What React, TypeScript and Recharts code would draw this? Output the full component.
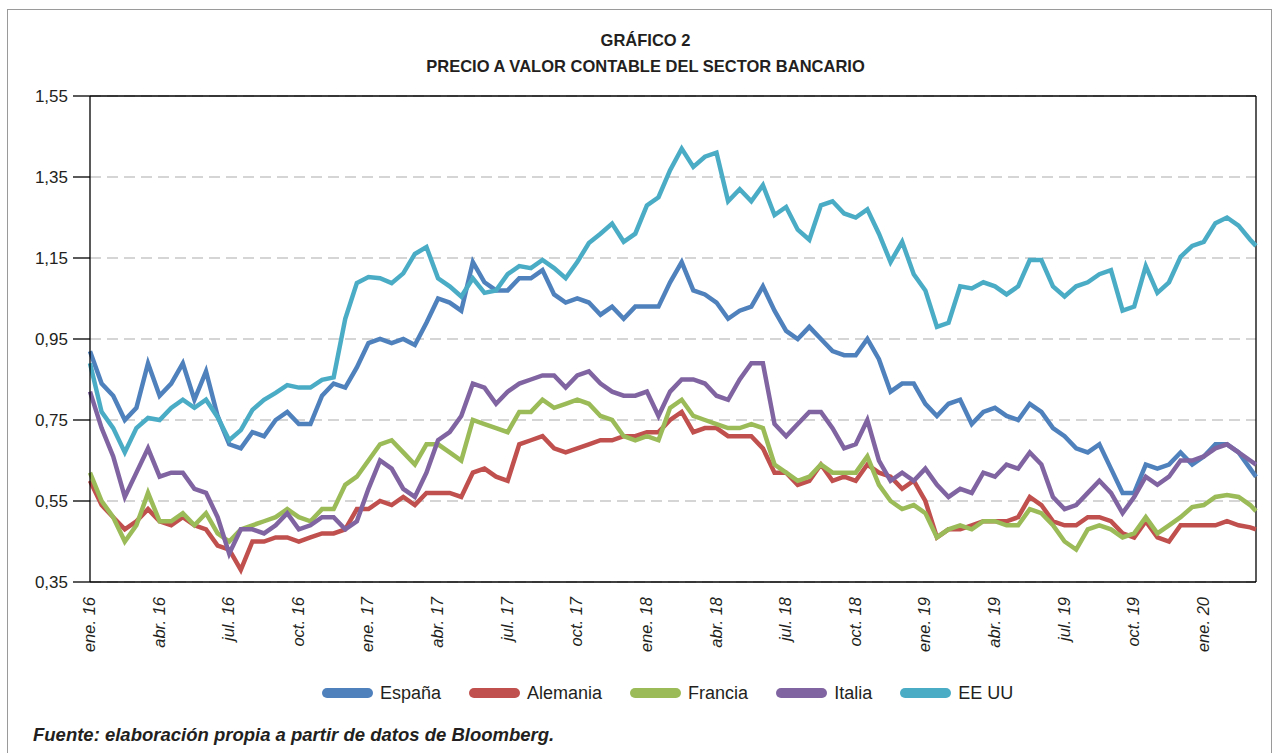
import {
  CartesianGrid,
  Line,
  LineChart,
  ReferenceLine,
  XAxis,
  YAxis,
} from 'recharts';

// Precio / valor contable, lecturas quincenales (ene. 2016 - feb. 2020)
const espana = [
  0.92, 0.84, 0.81, 0.75, 0.78, 0.89, 0.81, 0.84, 0.89, 0.8,
  0.87, 0.76, 0.69, 0.68, 0.72, 0.71, 0.75, 0.77, 0.74, 0.74,
  0.81, 0.84, 0.83, 0.88, 0.94, 0.95, 0.94, 0.95, 0.935, 0.99,
  1.05, 1.04, 1.02, 1.14, 1.09, 1.07, 1.07, 1.1, 1.1, 1.12,
  1.06, 1.04, 1.05, 1.04, 1.01, 1.03, 1.0, 1.03, 1.03, 1.03,
  1.09, 1.14, 1.07, 1.06, 1.04, 1.0, 1.02, 1.03, 1.08, 1.02,
  0.97, 0.95, 0.98, 0.95, 0.92, 0.91, 0.91, 0.95, 0.9, 0.82,
  0.84, 0.84, 0.79, 0.76, 0.79, 0.8, 0.74, 0.77, 0.78, 0.76,
  0.75, 0.79, 0.77, 0.73, 0.71, 0.68, 0.67, 0.69, 0.63, 0.57,
  0.57, 0.64, 0.63, 0.64, 0.67, 0.64, 0.66, 0.69, 0.69, 0.67,
  0.63, 0.61,
];

const alemania = [
  0.6, 0.54, 0.51, 0.48, 0.5, 0.53, 0.5, 0.49, 0.51, 0.49,
  0.48, 0.44, 0.43, 0.38, 0.45, 0.45, 0.46, 0.46, 0.45, 0.46,
  0.47, 0.47, 0.48, 0.53, 0.53, 0.55, 0.54, 0.56, 0.54, 0.57,
  0.57, 0.57, 0.56, 0.62, 0.63, 0.61, 0.6, 0.69, 0.7, 0.71,
  0.68, 0.67, 0.68, 0.69, 0.7, 0.7, 0.71, 0.71, 0.72, 0.72,
  0.75, 0.77, 0.72, 0.73, 0.73, 0.71, 0.71, 0.71, 0.68, 0.62,
  0.62, 0.59, 0.6, 0.64, 0.6, 0.61, 0.6, 0.64, 0.62, 0.61,
  0.58, 0.6, 0.55, 0.46, 0.48, 0.48, 0.49, 0.5, 0.5, 0.5,
  0.51, 0.56, 0.54, 0.5, 0.49, 0.49, 0.51, 0.51, 0.5, 0.47,
  0.46, 0.5, 0.46, 0.45, 0.49, 0.49, 0.49, 0.49, 0.5, 0.49,
  0.485, 0.48,
];

const francia = [
  0.62, 0.55, 0.51, 0.45, 0.49, 0.57, 0.5, 0.5, 0.52, 0.49,
  0.52, 0.47, 0.45, 0.48, 0.49, 0.5, 0.51, 0.53, 0.51, 0.5,
  0.53, 0.53, 0.59, 0.61, 0.65, 0.69, 0.7, 0.67, 0.64, 0.69,
  0.69, 0.67, 0.65, 0.75, 0.74, 0.73, 0.72, 0.77, 0.77, 0.8,
  0.78, 0.79, 0.8, 0.79, 0.76, 0.75, 0.71, 0.7, 0.71, 0.7,
  0.78, 0.8, 0.76, 0.75, 0.74, 0.73, 0.73, 0.74, 0.73, 0.64,
  0.62, 0.6, 0.61, 0.64, 0.62, 0.62, 0.62, 0.66, 0.59, 0.55,
  0.53, 0.54, 0.52, 0.46, 0.48, 0.49, 0.48, 0.5, 0.5, 0.49,
  0.49, 0.53, 0.52, 0.49, 0.45, 0.43, 0.48, 0.49, 0.48, 0.46,
  0.47, 0.51, 0.47, 0.49, 0.51, 0.535, 0.54, 0.56, 0.565, 0.56,
  0.54, 0.525,
];

const italia = [
  0.82, 0.73, 0.66, 0.56, 0.62, 0.68, 0.61, 0.62, 0.62, 0.58,
  0.57, 0.51, 0.42, 0.48, 0.48, 0.47, 0.49, 0.52, 0.48, 0.49,
  0.51, 0.51, 0.48, 0.5, 0.58, 0.65, 0.63, 0.58, 0.56, 0.62,
  0.7, 0.72, 0.76, 0.84, 0.83, 0.79, 0.82, 0.84, 0.85, 0.86,
  0.86, 0.83, 0.86, 0.87, 0.84, 0.82, 0.81, 0.81, 0.82, 0.76,
  0.82, 0.85, 0.85, 0.84, 0.81, 0.8, 0.85, 0.89, 0.89, 0.74,
  0.71, 0.74, 0.77, 0.77, 0.73, 0.68, 0.69, 0.75, 0.65, 0.6,
  0.62, 0.6, 0.63, 0.59, 0.56, 0.58, 0.57, 0.62, 0.61, 0.64,
  0.63, 0.67, 0.64, 0.56, 0.53, 0.54, 0.57, 0.6, 0.57, 0.52,
  0.56, 0.61, 0.59, 0.61, 0.65, 0.65, 0.66, 0.68, 0.69, 0.67,
  0.65, 0.64,
];

const eeuu = [
  0.89, 0.77, 0.73, 0.67, 0.73, 0.755, 0.75, 0.78, 0.8, 0.78,
  0.8, 0.757, 0.7, 0.725, 0.775, 0.8, 0.817, 0.836, 0.83, 0.83,
  0.849, 0.855, 1.0, 1.088, 1.103, 1.1, 1.088, 1.112, 1.16, 1.177,
  1.1, 1.08, 1.055, 1.1, 1.064, 1.07, 1.11, 1.13, 1.125, 1.145,
  1.125, 1.1, 1.14, 1.187, 1.21, 1.235, 1.19, 1.21, 1.28, 1.3,
  1.367, 1.42, 1.375, 1.4, 1.41, 1.29, 1.32, 1.29, 1.33, 1.256,
  1.276, 1.22, 1.195, 1.28, 1.29, 1.26, 1.25, 1.27, 1.21, 1.14,
  1.19, 1.11, 1.07, 0.98, 0.99, 1.08, 1.075, 1.09, 1.08, 1.06,
  1.08, 1.145, 1.145, 1.08, 1.055, 1.08, 1.09, 1.11, 1.12, 1.02,
  1.03, 1.13, 1.064, 1.09, 1.153, 1.18, 1.19, 1.236, 1.25, 1.23,
  1.195, 1.18,
];

const ultimoMes = 50.25;
const mesesTicks = [0, 3, 6, 9, 12, 15, 18, 21, 24, 27, 30, 33, 36, 39, 42, 45, 48];
const mesesLabels = [
  'ene. 16', 'abr. 16', 'jul. 16', 'oct. 16',
  'ene. 17', 'abr. 17', 'jul. 17', 'oct. 17',
  'ene. 18', 'abr. 18', 'jul. 18', 'oct. 18',
  'ene. 19', 'abr. 19', 'jul. 19', 'oct. 19',
  'ene. 20',
];
const yTicks = [0.35, 0.55, 0.75, 0.95, 1.15, 1.35, 1.55];

const series = [
  { key: 'espana', name: 'España', color: '#4f81bd', values: espana },
  { key: 'alemania', name: 'Alemania', color: '#c0504d', values: alemania },
  { key: 'francia', name: 'Francia', color: '#9bbb59', values: francia },
  { key: 'italia', name: 'Italia', color: '#8064a2', values: italia },
  { key: 'eeuu', name: 'EE UU', color: '#4bacc6', values: eeuu },
];

const data = espana.map((_, i) => {
  const row: Record<string, number> = { mes: Math.min(i * 0.5, ultimoMes) };
  series.forEach((s) => {
    row[s.key] = s.values[i];
  });
  return row;
});

const FONT = '"Liberation Sans", Arial, Helvetica, sans-serif';
const TEXT = '#231f20';

function MonthTick({ x, y, payload }: any) {
  const idx = mesesTicks.indexOf(payload.value);
  const px = x + 5;
  const py = y + 15;
  return (
    <text
      x={px}
      y={py}
      transform={`rotate(-90 ${px} ${py})`}
      textAnchor="end"
      fontSize={16.5}
      fontStyle="italic"
      fontFamily={FONT}
      fill={TEXT}
    >
      {mesesLabels[idx]}
    </text>
  );
}

export default function App() {
  return (
    <div
      style={{
        position: 'absolute',
        left: 7,
        top: 9,
        width: 1263,
        height: 760,
        border: '1px solid #9a9a9a',
        fontFamily: FONT,
        color: TEXT,
        background: '#fff',
      }}
    >
      <div
        style={{
          position: 'absolute',
          left: 12,
          width: 1251,
          top: 17,
          textAlign: 'center',
          fontWeight: 'bold',
          fontSize: 16.5,
          lineHeight: '26px',
        }}
      >
        <div>GRÁFICO 2</div>
        <div>PRECIO A VALOR CONTABLE DEL SECTOR BANCARIO</div>
      </div>

      <div style={{ position: 'absolute', left: 0, top: 0 }}>
        <LineChart
          width={1262}
          height={652}
          data={data}
          margin={{ top: 86, right: 14, bottom: 0, left: 0 }}
        >
          <CartesianGrid
            vertical={false}
            stroke="#ababab"
            strokeWidth={1.2}
            strokeDasharray="11 6"
          />
          <XAxis
            dataKey="mes"
            type="number"
            domain={[0, ultimoMes]}
            ticks={mesesTicks}
            interval={0}
            height={80}
            tickSize={0}
            tickMargin={0}
            tickLine={false}
            axisLine={{ stroke: '#000', strokeWidth: 1.3 }}
            tick={<MonthTick />}
          />
          <YAxis
            type="number"
            domain={[0.35, 1.55]}
            ticks={yTicks}
            width={82}
            tickSize={17}
            tickMargin={5}
            axisLine={{ stroke: '#000', strokeWidth: 1.3 }}
            tickLine={{ stroke: '#000', strokeWidth: 1.3 }}
            tick={{ fontSize: 17, fill: TEXT, fontFamily: FONT }}
            tickFormatter={(v: number) => v.toFixed(2).replace('.', ',')}
          />
          <ReferenceLine y={1.55} stroke="#000" strokeWidth={1.3} />
          <ReferenceLine x={ultimoMes} stroke="#000" strokeWidth={1.3} />
          {series.map((s) => (
            <Line
              key={s.key}
              type="linear"
              dataKey={s.key}
              name={s.name}
              stroke={s.color}
              strokeWidth={4.5}
              dot={false}
              isAnimationActive={false}
            />
          ))}
        </LineChart>
      </div>

      <div
        style={{
          position: 'absolute',
          left: 314,
          top: 672,
          height: 22,
          display: 'flex',
          alignItems: 'center',
          fontSize: 18,
        }}
      >
        {series.map((s) => (
          <div key={s.key} style={{ display: 'flex', alignItems: 'center', marginRight: 28 }}>
            <span
              style={{
                display: 'inline-block',
                width: 51,
                height: 10,
                borderRadius: 5,
                background: s.color,
                marginRight: 7,
              }}
            />
            <span>{s.name}</span>
          </div>
        ))}
      </div>

      <div
        style={{
          position: 'absolute',
          left: 25,
          top: 714,
          fontSize: 18.5,
          fontWeight: 'bold',
          fontStyle: 'italic',
        }}
      >
        Fuente: elaboración propia a partir de datos de Bloomberg.
      </div>
    </div>
  );
}
